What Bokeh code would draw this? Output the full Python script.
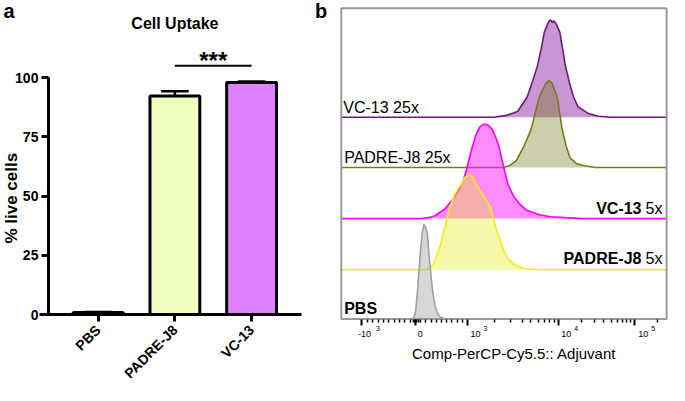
from math import pi, log10
from bokeh.plotting import figure
from bokeh.layouts import row
from bokeh.models import Range1d, FixedTicker
from bokeh.core.properties import value
from bokeh.embed import file_html
from bokeh.resources import INLINE

FONT = "Liberation Sans"

# ---------------- panel a data ----------------
groups = ["PBS", "PADRE-J8", "VC-13"]
uptake_mean = [0.8, 92.3, 98.0]
uptake_sd = [0.3, 2.0, 0.4]
bar_colors = ["#ffffff", "#efffbf", "#df80ff"]
y_ticks = [0, 25, 50, 75, 100]
sig_from = 1
sig_to = 2
sig_y = 105
sig_label = "***"

# ---------------- panel b data (channel units 0..1024, height above row baseline) ----------------
samples = ["VC-13 25x", "PADRE-J8 25x", "VC-13 5x", "PADRE-J8 5x", "PBS"]
row_offset = [209, 157, 104, 51, 0]
display_ch = (0, 1024)
display_top = 322

vc13_25x_ch = [0, 480, 520, 555, 585, 603, 618, 630, 639, 650, 655, 659, 664, 669, 676, 688, 697, 705, 718, 731, 745, 777, 810, 850, 1024]
vc13_25x_h = [0, 0, 2, 6, 21, 38, 54, 72, 88, 97, 100, 101, 98, 100, 97, 88, 70, 54, 36, 21, 11, 4, 1, 0, 0]

padre_25x_ch = [0, 510, 530, 551, 575, 598, 623, 644, 654, 662, 680, 695, 708, 720, 740, 762, 800, 1024]
padre_25x_h = [0, 0, 2, 7, 22, 40, 73, 87, 90, 88, 73, 40, 22, 10, 4, 2, 0, 0]

vc13_5x_ch = [0, 250, 275, 295, 326, 351, 372, 385, 395, 408, 423, 436, 449, 462, 474, 485, 495, 510, 524, 541, 562, 582, 623, 660, 704, 760, 1024]
vc13_5x_h = [0, 0, 1, 3, 10, 20, 31, 40, 52, 69, 86, 95, 98, 97, 93, 85, 76, 55, 36, 24, 15, 9, 4, 2, 1, 0, 0]

padre_5x_ch = [0, 265, 280, 295, 311, 326, 341, 354, 367, 377, 390, 403, 413, 423, 443, 456, 470, 489, 510, 525, 541, 560, 581, 620, 1024]
padre_5x_h = [0, 0, 2, 9, 24, 44, 64, 76, 84, 88, 96, 99, 96, 89, 79, 72, 64, 41, 21, 11, 6, 3, 1, 0, 0]

pbs_ch = [0, 220, 228, 234, 240, 249, 255, 260, 265, 271, 277, 286, 295, 303, 311, 326, 1024]
pbs_h = [0, 0, 1, 8, 30, 70, 90, 98, 95, 88, 63, 33, 13, 6, 2, 0, 0]

line_colors = ["#6a1b7a", "#7a7a12", "#ff00ff", "#eeee10", "#a0a0a0"]
fill_colors = ["#912da5", "#6e7314", "#ff19ff", "#e2f00b", "#afafaf"]
fill_alphas = [0.5, 0.35, 0.5, 0.35, 0.5]

major_ch = [65, 234, 397, 683, 922]
major_base = ["-10", "0", "10", "10", "10"]
major_exp = ["3", "", "3", "4", "5"]
x_title = "Comp-PerCP-Cy5.5:: Adjuvant"

# ---------------- panel a ----------------
xs = list(range(len(groups)))
pa = figure(width=330, height=385, x_range=Range1d(-1.274, 3.029), y_range=Range1d(-29.98, 132.6),
            title=None, output_backend="svg", toolbar_location=None,
            min_border=0, min_border_left=0, min_border_right=0, min_border_top=0, min_border_bottom=0)
pa.grid.visible = False
pa.outline_line_color = None

pa.vbar(x=xs, top=uptake_mean, width=0.65, fill_color=bar_colors, line_color="black", line_width=3)
ups = [m + s for m, s in zip(uptake_mean, uptake_sd)]
pa.segment(x0=xs, y0=uptake_mean, x1=xs, y1=ups, line_color="black", line_width=2.5)
pa.segment(x0=[x - 0.18 for x in xs], y0=ups, x1=[x + 0.18 for x in xs], y1=ups,
           line_color="black", line_width=2.5)
pa.line(x=[sig_from, sig_to], y=[sig_y, sig_y], line_color="black", line_width=2)

bold = dict(text_font=value(FONT), text_font_style="bold", text_color="black",
            text_baseline="middle")
pa.text(x=[(sig_from + sig_to) / 2], y=[sig_y + 2.3], text=[sig_label], text_align="center",
        text_font_size="24px", **bold)
pa.text(x=[1], y=[122.9], text=["Cell Uptake"], text_align="center", text_font_size="16px", **bold)
pa.text(x=[-1.128], y=[49.1], text=["% live cells"], angle=pi / 2, text_align="center",
        text_font_size="17px", **bold)
pa.text(x=[-1.236], y=[128.1], text=["a"], text_align="left", text_font_size="20px", **bold)
pa.text(x=[2.827], y=[128.1], text=["b"], text_align="left", text_font_size="20px", **bold)

for ax in (pa.xaxis, pa.yaxis):
    ax.axis_line_width = 3
    ax.major_tick_line_width = 3
    ax.major_tick_out = 7
    ax.major_tick_in = 0
    ax.minor_tick_line_color = None
    ax.major_label_text_font = FONT
    ax.major_label_text_font_style = "bold"
    ax.major_label_text_font_size = "14px"
    ax.major_label_text_color = "black"
    ax.major_label_standoff = 3

pa.xaxis.ticker = FixedTicker(ticks=xs)
pa.xaxis.major_label_overrides = {i: g for i, g in enumerate(groups)}
pa.xaxis.major_label_orientation = pi / 4
pa.xaxis.major_label_standoff = 6
pa.xaxis.fixed_location = 0
pa.xaxis.bounds = (-0.764, 2.648)
pa.yaxis.ticker = FixedTicker(ticks=y_ticks)
pa.yaxis.bounds = (0, 100)
pa.yaxis.fixed_location = -0.649

# ---------------- panel b ----------------
pb = figure(width=339, height=385, x_range=Range1d(-34.0, 1033.1), y_range=Range1d(-68.9, 330.0),
            title=None, y_axis_type=None, output_backend="svg", toolbar_location=None,
            min_border=0, min_border_left=0, min_border_right=0, min_border_top=0, min_border_bottom=0)
pb.grid.visible = False
pb.outline_line_color = None

curves = [(vc13_25x_ch, vc13_25x_h), (padre_25x_ch, padre_25x_h), (vc13_5x_ch, vc13_5x_h),
          (padre_5x_ch, padre_5x_h), (pbs_ch, pbs_h)]
for (ch, h), off, lc, fc, fa in zip(curves, row_offset, line_colors, fill_colors, fill_alphas):
    top = [off + v for v in h]
    pb.varea(x=ch, y1=[off] * len(ch), y2=top, fill_color=fc, fill_alpha=fa)
    pb.line(x=ch, y=top, line_color=lc, line_width=1.6)

pb.quad(left=[display_ch[0]], right=[display_ch[1]], bottom=[0], top=[display_top],
        fill_color=None, line_color="#9a9a9a", line_width=2)

minor_ch = []
for a, b in ((major_ch[0], major_ch[1]), (major_ch[1], major_ch[2])):
    minor_ch += [a + k * (b - a) / 10 for k in range(1, 10)]
for a, b in ((major_ch[2], major_ch[3]), (major_ch[3], major_ch[4])):
    minor_ch += [a + log10(k) * (b - a) for k in range(2, 10)]
minor_ch += [major_ch[4] + log10(2) * (major_ch[4] - major_ch[3])]
minor_ch += [major_ch[1] - 8, major_ch[1] - 4, major_ch[1] + 4, major_ch[1] + 8]

xa = pb.xaxis[0]
xa.fixed_location = 0
xa.ticker = FixedTicker(ticks=major_ch, minor_ticks=minor_ch)
xa.major_label_overrides = {t: "" for t in major_ch}
xa.major_label_text_color = None
xa.axis_line_color = None
xa.major_tick_line_color = "black"
xa.minor_tick_line_color = "black"
xa.major_tick_line_width = 2
xa.minor_tick_line_width = 1.5
xa.major_tick_out = 6
xa.major_tick_in = 0
xa.minor_tick_out = 3
xa.minor_tick_in = 0

reg = dict(text_font=value(FONT), text_color="black", text_baseline="middle")
base_dx = [-4, 2, 3, 3, 4]
for t, bt, ex, dx in zip(major_ch, major_base, major_exp, base_dx):
    pb.text(x=[t], y=[-15.5], text=[bt], x_offset=dx, text_align="left", text_font_size="9px", **reg)
    if ex:
        pb.text(x=[t], y=[-9.5], text=[ex], x_offset=dx + len(bt) * 5 + 3, text_align="left",
                text_font_size="7px", **reg)
pb.text(x=[544], y=[-35.7], text=[x_title], text_align="center", text_font_size="15px", **reg)

pb.text(x=[6.3], y=[219], text=[samples[0]], text_align="left", text_font_size="16px", **reg)
pb.text(x=[9], y=[167], text=[samples[1]], text_align="left", text_font_size="16px", **reg)
pb.text(x=[1011], y=[114], text=["VC-13"], text_align="right", x_offset=-21,
        text_font_style="bold", text_font_size="16px", **reg)
pb.text(x=[1011], y=[114], text=["5x"], text_align="right", text_font_size="16px", **reg)
pb.text(x=[1011], y=[62.5], text=["PADRE-J8"], text_align="right", x_offset=-21,
        text_font_style="bold", text_font_size="16px", **reg)
pb.text(x=[1011], y=[62.5], text=["5x"], text_align="right", text_font_size="16px", **reg)
pb.text(x=[9], y=[11], text=[samples[4]], text_align="left", text_font_style="bold",
        text_font_size="16px", **reg)

layout = row(pa, pb)
open("out.html", "w").write(file_html(layout, INLINE))
